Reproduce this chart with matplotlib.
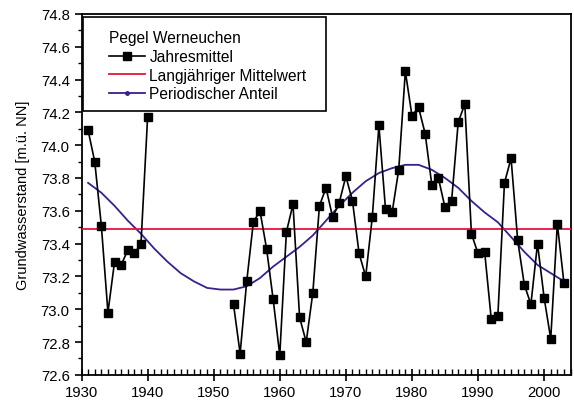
import numpy as np
import matplotlib
matplotlib.use("Agg")
import matplotlib.pyplot as plt
from matplotlib.lines import Line2D
from matplotlib.patches import Rectangle
from matplotlib.ticker import MultipleLocator, FormatStrFormatter

plt.rcParams['font.family'] = ['Liberation Sans', 'DejaVu Sans']

# Jahresmittel (gap 1941-1952)
years1 = [1931, 1932, 1933, 1934, 1935, 1936, 1937, 1938, 1939, 1940]
level1 = [74.09, 73.90, 73.51, 72.98, 73.29, 73.27, 73.36, 73.34, 73.40, 74.17]

years2 = list(range(1953, 2004))
level2 = [73.03, 72.73, 73.17, 73.53, 73.60, 73.37, 73.06, 72.72, 73.47, 73.64,
          72.95, 72.80, 73.10, 73.63, 73.74, 73.56, 73.65, 73.81, 73.66, 73.34,
          73.20, 73.56, 74.12, 73.61, 73.59, 73.85, 74.45, 74.18, 74.23, 74.07,
          73.76, 73.80, 73.62, 73.66, 74.14, 74.25, 73.46, 73.34, 73.35, 72.94,
          72.96, 73.77, 73.92, 73.42, 73.15, 73.03, 73.40, 73.07, 72.82, 73.52,
          73.16]

mean_level = 73.49

# Periodischer Anteil
per_years = [1931, 1933, 1935, 1937, 1939, 1941, 1943, 1945, 1947, 1949, 1951,
             1953, 1955, 1957, 1959, 1961, 1963, 1965, 1967, 1969, 1971, 1973,
             1975, 1977, 1979, 1981, 1983, 1985, 1987, 1989, 1991, 1993, 1995,
             1997, 1999, 2001, 2003]
per_vals = [73.77, 73.71, 73.63, 73.54, 73.46, 73.37, 73.29, 73.22, 73.17, 73.13,
            73.12, 73.12, 73.14, 73.19, 73.26, 73.32, 73.38, 73.45, 73.54, 73.63,
            73.71, 73.78, 73.83, 73.86, 73.88, 73.88, 73.85, 73.80, 73.74, 73.66,
            73.59, 73.53, 73.44, 73.35, 73.27, 73.22, 73.17]

W, H = 574, 402
fig = plt.figure(figsize=(W / 100, H / 100), dpi=100)
ax = fig.add_axes([0.142, 0.065, 0.852, 0.898])

ax.plot(per_years, per_vals, color='#3a1f8f', lw=1.3, zorder=2)
ax.axhline(mean_level, color='#e8123c', lw=1.3, zorder=3)
ax.plot(years1, level1, color='black', lw=1.2, marker='s', ms=5.5, zorder=4)
ax.plot(years2, level2, color='black', lw=1.2, marker='s', ms=5.5, zorder=4)

ax.set_xlim(1930, 2004)
ax.set_ylim(72.6, 74.8)
ax.xaxis.set_major_locator(MultipleLocator(10))
ax.xaxis.set_minor_locator(MultipleLocator(1))
ax.yaxis.set_major_locator(MultipleLocator(0.2))
ax.yaxis.set_minor_locator(MultipleLocator(0.1))
ax.yaxis.set_major_formatter(FormatStrFormatter('%.1f'))
ax.tick_params(axis='x', which='major', direction='inout', length=8, width=1.2, labelsize=10.7)
ax.tick_params(axis='x', which='minor', direction='in', length=4, width=1)
ax.tick_params(axis='y', which='major', direction='out', length=5, width=1.2, labelsize=10.7)
ax.tick_params(axis='y', which='minor', direction='out', length=3, width=1)
for s in ax.spines.values():
    s.set_linewidth(1.3)

ax.set_ylabel('Grundwasserstand [m.ü. NN]', fontsize=10.5, labelpad=8)

# legend box drawn by hand (wider left margin than right, as in the original)
box = Rectangle((83.3 / W, 1 - 111.7 / H), (326 - 83.3) / W, (111.7 - 17.7) / H,
                transform=fig.transFigure, facecolor='white', edgecolor='black',
                lw=1.2, zorder=5, clip_on=False)
ax.add_patch(box)

handles = [
    Line2D([], [], color='black', lw=1.2, marker='s', ms=5.5),
    Line2D([], [], color='#e8123c', lw=1.3),
    Line2D([], [], color='#3a1f8f', lw=1.3, marker='o', ms=2.5),
]
labels = ['Jahresmittel', 'Langjähriger Mittelwert', 'Periodischer Anteil']
leg = fig.legend(handles, labels, title='Pegel Werneuchen', loc='upper left',
                 bbox_to_anchor=(109 / W, 1 - 31.5 / H), fontsize=11.2, title_fontsize=11.2,
                 frameon=False, borderpad=0, handlelength=2.3, handletextpad=0.3,
                 labelspacing=0.23, borderaxespad=0)
leg._legend_box.align = 'left'
leg.set_zorder(6)

fig.savefig('out.png', dpi=100)
